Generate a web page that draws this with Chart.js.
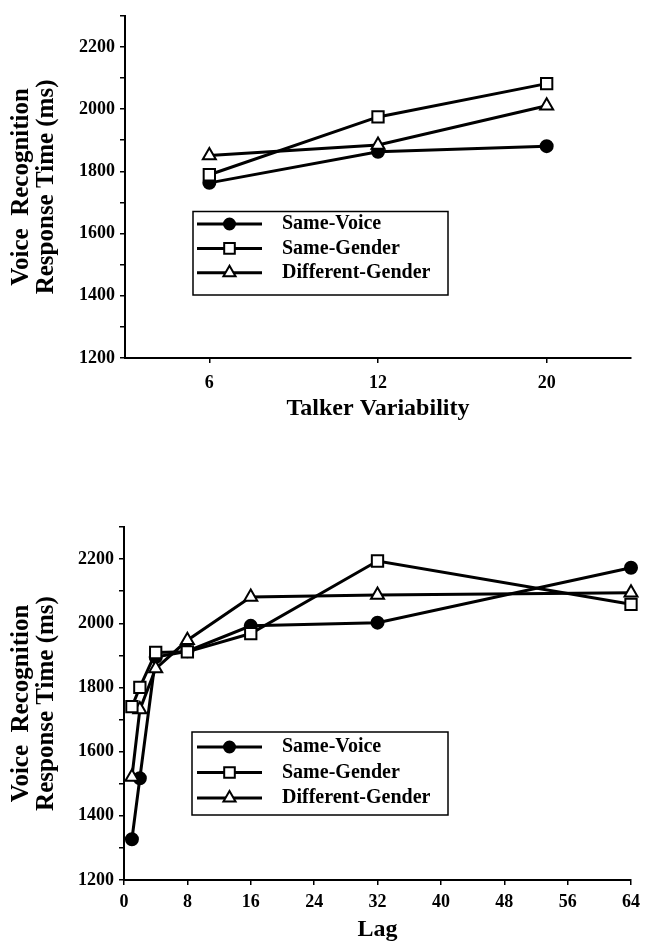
<!DOCTYPE html>
<html>
<head>
<meta charset="utf-8">
<script src="https://cdn.jsdelivr.net/npm/chart.js@4"></script>
<style>
  html, body { margin: 0; padding: 0; background: #fff; }
  .box { position: absolute; left: 0; width: 645px; }
  #top { top: 0; height: 430px; }
  #bottom { top: 480px; height: 463px; }
</style>
</head>
<body>
<div class="box" id="top"><canvas id="chartTalker"></canvas></div>
<div class="box" id="bottom"><canvas id="chartLag"></canvas></div>
<script>
// talker variability panel
var talkerLabels = ['6', '12', '20'];
var talkerSameVoice = [1763, 1863, 1881];
var talkerSameGender = [1789, 1975, 2082];
var talkerDiffGender = [1851, 1885, 2011];

// lag panel
var lagValues = [1, 2, 4, 8, 16, 32, 64];
var lagSameVoice = [1327, 1517, 1895, 1913, 1992, 2002, 2173];
var lagSameGender = [1740, 1800, 1909, 1911, 1968, 2194, 2059];
var lagDiffGender = [1521, 1731, 1859, 1947, 2082, 2088, 2095];

var yTitle = ['Voice  Recognition', 'Response Time (ms)'];
var seriesNames = ['Same-Voice', 'Same-Gender', 'Different-Gender'];

Chart.defaults.font.family = '"Liberation Serif", "DejaVu Serif", serif';
Chart.defaults.font.weight = 'bold';
Chart.defaults.color = '#000';

function makeSets(a, b, c, xs) {
    function pts(vals) {
        if (!xs) return vals;
        return vals.map(function (v, i) { return {x: xs[i], y: v}; });
    }
    var common = {borderColor: '#000', borderWidth: 3, pointBorderColor: '#000', pointBorderWidth: 2,
        tension: 0, clip: false};
    return [
        Object.assign({label: seriesNames[0], data: pts(a), pointStyle: 'circle', pointRadius: 6,
            pointBackgroundColor: '#000', order: 2}, common),
        Object.assign({label: seriesNames[1], data: pts(b), pointStyle: 'rect', pointRadius: 8,
            pointBackgroundColor: '#fff', order: 0}, common),
        Object.assign({label: seriesNames[2], data: pts(c), pointStyle: 'triangle', pointRadius: 7.5,
            pointBackgroundColor: '#fff', order: 1}, common)
    ];
}

// legend box drawn inside the plot, line + marker + label per series
var boxLegend = {
    id: 'boxLegend',
    afterDraw: function (chart, args, o) {
        var ctx = chart.ctx;
        ctx.save();
        ctx.strokeStyle = '#000';
        ctx.lineWidth = 1.5;
        ctx.strokeRect(o.x, o.y, o.w, o.h);
        chart.data.datasets.forEach(function (ds, i) {
            var y = o.rowY + i * o.rowGap;
            ctx.beginPath();
            ctx.lineWidth = ds.borderWidth;
            ctx.strokeStyle = '#000';
            ctx.moveTo(o.lineX1, y);
            ctx.lineTo(o.lineX2, y);
            ctx.stroke();
            ctx.fillStyle = ds.pointBackgroundColor;
            ctx.strokeStyle = ds.pointBorderColor;
            ctx.lineWidth = ds.pointBorderWidth;
            Chart.helpers.drawPoint(ctx, {pointStyle: ds.pointStyle, radius: ds.pointRadius - 0.5, rotation: 0,
                borderWidth: ds.pointBorderWidth}, (o.lineX1 + o.lineX2) / 2, y);
            ctx.fillStyle = '#000';
            ctx.font = 'bold 20px "Liberation Serif"';
            ctx.textBaseline = 'middle';
            ctx.textAlign = 'left';
            ctx.fillText(ds.label, o.textX, y);
        });
        ctx.restore();
    }
};

function yScale(width) {
    return {
        min: 1200, max: 2300,
        afterFit: function (s) { s.width = width; },
        border: {display: true, color: '#000', width: 2},
        grid: {drawOnChartArea: false, drawTicks: true, tickLength: 5, color: '#000', lineWidth: 1.5},
        ticks: {stepSize: 100, autoSkip: false, padding: 5, font: {size: 18},
            callback: function (v) { return v % 200 === 0 ? v : ''; }},
        title: {display: true, text: yTitle, font: {size: 25, lineHeight: 1.0},
            padding: {top: 9, bottom: 0}}
    };
}

function baseOptions() {
    return {
        responsive: true,
        maintainAspectRatio: false,
        animation: false,
        plugins: {legend: {display: false}, tooltip: {enabled: false}}
    };
}

var opt1 = baseOptions();
opt1.layout = {padding: {top: 5, right: 14, left: 0, bottom: 0}};
opt1.scales = {
    x: {
        type: 'category', offset: true,
        afterFit: function (s) { s.height = 72; },
        border: {display: true, color: '#000', width: 2},
        grid: {offset: false, drawOnChartArea: false, drawTicks: true, tickLength: 5, color: '#000', lineWidth: 1.5},
        ticks: {padding: 10, font: {size: 18}},
        title: {display: true, text: 'Talker Variability', font: {size: 24}, padding: {top: 0, bottom: 7}}
    },
    y: yScale(125)
};
opt1.plugins.boxLegend = {x: 193, y: 211.5, w: 255, h: 83.5, rowY: 224, rowGap: 24.4,
    lineX1: 197, lineX2: 262, textX: 282};

new Chart(document.getElementById('chartTalker'), {
    type: 'line',
    data: {labels: talkerLabels, datasets: makeSets(talkerSameVoice, talkerSameGender, talkerDiffGender)},
    options: opt1,
    plugins: [boxLegend]
});

var opt2 = baseOptions();
opt2.layout = {padding: {top: 47, right: 14, left: 0, bottom: 0}};
opt2.scales = {
    x: {
        type: 'linear', min: 0, max: 64,
        afterFit: function (s) { s.height = 63; s.paddingLeft = 0; s.paddingRight = 0; },
        border: {display: true, color: '#000', width: 2},
        grid: {drawOnChartArea: false, drawTicks: true, tickLength: 5, color: '#000', lineWidth: 1.5},
        ticks: {stepSize: 8, padding: 7, font: {size: 18}},
        title: {display: true, text: 'Lag', font: {size: 24, lineHeight: 1.05}, padding: {top: 0, bottom: 1}}
    },
    y: yScale(124)
};
opt2.plugins.boxLegend = {x: 192, y: 252, w: 256, h: 83, rowY: 267, rowGap: 25.5,
    lineX1: 197, lineX2: 262, textX: 282};

new Chart(document.getElementById('chartLag'), {
    type: 'line',
    data: {datasets: makeSets(lagSameVoice, lagSameGender, lagDiffGender, lagValues)},
    options: opt2,
    plugins: [boxLegend]
});
</script>
</body>
</html>
